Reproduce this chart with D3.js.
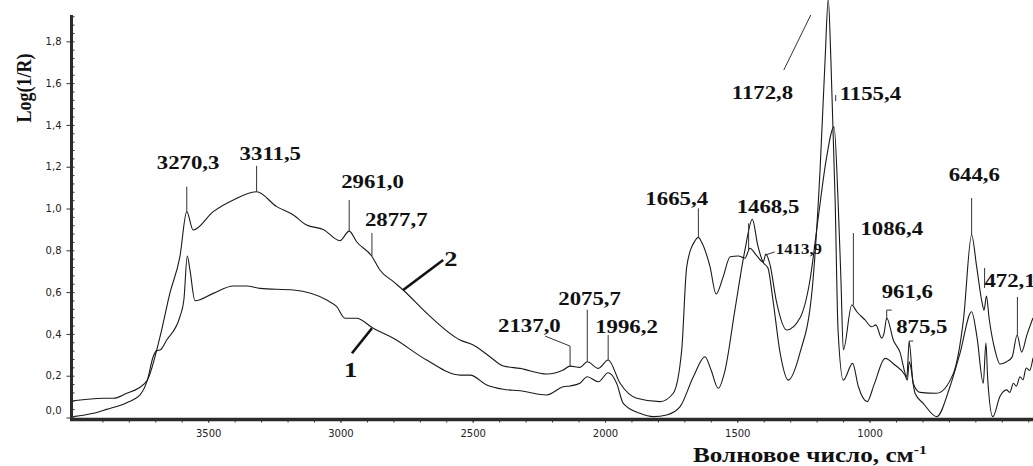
<!DOCTYPE html>
<html>
 <head>
    <meta charset="utf-8">
    <style>
        body { margin: 0; background: #fff; }
        svg { display: block; }
        .lbl { font-family: 'Liberation Serif', 'Times New Roman', serif; font-weight: bold; fill: #111; }
        .tick text { font-family: 'DejaVu Sans', sans-serif; font-size: 10px; fill: #222; }
    </style>
    <script src="https://d3js.org/d3.v7.min.js"></script>
 </head>
 <body>
    <div id="chart"></div>
    <script>
        // spectrum 2 (upper in the 3000 region)
        var wn2 = [4010, 3897, 3859, 3808, 3764, 3730, 3682, 3645, 3607, 3581, 3557, 3481, 3405, 3317, 3241, 3178,
            3128, 3065, 3002, 2967, 2939, 2882, 2851, 2800, 2763, 2674, 2548, 2498, 2435, 2384, 2321, 2220, 2158,
            2132, 2095, 2067, 2025, 1988, 1943, 1880, 1792, 1742, 1710, 1691, 1660, 1647, 1635, 1603, 1580, 1553,
            1527, 1496, 1471, 1452, 1429, 1402, 1392, 1376, 1353, 1313, 1263, 1225, 1195, 1164, 1134, 1119, 1108,
            1099, 1067, 1048, 1017, 992, 976, 954, 945, 935, 910, 885, 859, 850, 835, 809, 746, 683, 645, 614, 595,
            575, 567, 558, 548, 526, 507, 482, 461, 442, 425, 405, 382];
        var val2 = [0.080, 0.092, 0.092, 0.116, 0.140, 0.179, 0.387, 0.594, 0.769, 0.985, 0.897, 0.985, 1.041, 1.080,
            1.009, 0.969, 0.921, 0.900, 0.846, 0.892, 0.841, 0.773, 0.706, 0.650, 0.610, 0.499, 0.371, 0.347, 0.291,
            0.246, 0.235, 0.208, 0.227, 0.246, 0.240, 0.267, 0.235, 0.275, 0.164, 0.092, 0.076, 0.116, 0.323, 0.722,
            0.845, 0.862, 0.840, 0.722, 0.591, 0.674, 0.769, 0.773, 0.762, 0.810, 0.778, 0.744, 0.782, 0.730, 0.562,
            0.419, 0.476, 0.658, 0.945, 1.232, 1.391, 1.041, 0.658, 0.323, 0.538, 0.506, 0.467, 0.434, 0.443, 0.380,
            0.404, 0.476, 0.371, 0.313, 0.195, 0.361, 0.164, 0.120, 0.116, 0.211, 0.467, 0.873, 0.722, 0.553, 0.514,
            0.581, 0.476, 0.323, 0.256, 0.267, 0.289, 0.395, 0.313, 0.395, 0.476];

        // spectrum 1 (lower in the 3000 region)
        var wn1 = [4010, 3935, 3884, 3808, 3758, 3730, 3708, 3695, 3682, 3657, 3607, 3592, 3579, 3569, 3550, 3481,
            3405, 3355, 3304, 3178, 3052, 3014, 2983, 2939, 2876, 2800, 2674, 2548, 2510, 2447, 2384, 2321, 2220,
            2158, 2132, 2095, 2067, 2025, 1988, 1956, 1931, 1868, 1817, 1767, 1716, 1666, 1622, 1599, 1572, 1546,
            1509, 1471, 1443, 1422, 1403, 1384, 1365, 1338, 1307, 1263, 1217, 1187, 1168, 1156, 1146, 1130, 1119,
            1099, 1064, 1042, 1009, 983, 941, 904, 866, 857, 850, 828, 797, 746, 696, 658, 614, 594, 570, 560, 553,
            534, 507, 482, 470, 456, 445, 431, 420, 408, 395, 382];
        var val1 = [0.004, 0.020, 0.039, 0.071, 0.108, 0.179, 0.291, 0.320, 0.323, 0.371, 0.482, 0.562, 0.773, 0.706,
            0.559, 0.594, 0.629, 0.629, 0.618, 0.610, 0.562, 0.530, 0.475, 0.475, 0.427, 0.379, 0.275, 0.203, 0.203,
            0.156, 0.135, 0.128, 0.108, 0.147, 0.151, 0.164, 0.195, 0.171, 0.214, 0.164, 0.068, 0.020, 0.004, 0.012,
            0.052, 0.195, 0.291, 0.227, 0.140, 0.227, 0.514, 0.801, 0.948, 0.821, 0.744, 0.715, 0.562, 0.309, 0.179,
            0.309, 0.610, 1.184, 1.711, 2.002, 1.711, 1.041, 0.419, 0.179, 0.259, 0.147, 0.076, 0.156, 0.283, 0.251,
            0.203, 0.179, 0.266, 0.116, 0.068, 0.004, 0.147, 0.307, 0.506, 0.387, 0.164, 0.356, 0.179, 0.004, 0.100,
            0.132, 0.120, 0.164, 0.150, 0.195, 0.180, 0.237, 0.225, 0.285];

        var xMajor = [3500, 3000, 2500, 2000, 1500, 1000];
        var xMinor = d3.range(3900, 399, -100);
        var yMajor = [0, 0.2, 0.4, 0.6, 0.8, 1.0, 1.2, 1.4, 1.6, 1.8];
        var yMinor = d3.range(0, 1.93, 0.04);

        // peak labels: anchor point in data units, leader offsets and label offsets in px
        var peaks = [
            { t: "3270,3", w: 3581, v: 0.985, pts: [[0, 0], [0, -25]], dx: -30, dy: -43 },
            { t: "3311,5", w: 3317, v: 1.080, pts: [[0, 0], [0, -26]], dx: -17, dy: -32 },
            { t: "2961,0", w: 2967, v: 0.892, pts: [[0, 0], [0, -31]], dx: -8, dy: -43 },
            { t: "2877,7", w: 2881, v: 0.773, pts: [[0, 0], [0, -23]], dx: -7, dy: -30 },
            { t: "2137,0", w: 2132, v: 0.246, pts: [[0, 0], [0, -20], [-25, -30]], dx: -72, dy: -34 },
            { t: "2075,7", w: 2067, v: 0.267, pts: [[0, 0], [0, -52]], dx: -29, dy: -57 },
            { t: "1996,2", w: 1988, v: 0.275, pts: [[0, 0], [0, -25]], dx: -13, dy: -27 },
            { t: "1665,4", w: 1647, v: 0.862, pts: [[0, 0], [0, -29]], dx: -53, dy: -32 },
            { t: "1468,5", w: 1457, v: 0.800, pts: [[0, 0], [0, -27]], dx: -12, dy: -37 },
            { t: "1413,9", w: 1392, v: 0.778, pts: [[0, 0], [9, -3]], dx: 10, dy: -1, small: true },
            { t: "1172,8", w: 1222, v: 1.926, pts: [[0, 0], [-27, 55]], dx: -79, dy: 84 },
            { t: "1155,4", w: 1128, v: 1.514, pts: [[0, 0], [0, -6]], dx: 4, dy: -1 },
            { t: "1086,4", w: 1061, v: 0.538, pts: [[0, 0], [0, -72]], dx: 7, dy: -70 },
            { t: "961,6", w: 935, v: 0.514, pts: [[5, 0], [0, 0], [0, 10]], dx: -5, dy: -12 },
            { t: "875,5", w: 850, v: 0.366, pts: [[4, 0], [0, 0], [0, 6]], dx: -13, dy: -8 },
            { t: "644,6", w: 614, v: 0.873, pts: [[0, 0], [0, -37]], dx: -23, dy: -54 },
            { t: "472,1", w: 441, v: 0.395, pts: [[0, 0], [0, -38]], dx: -33, dy: -48 },
            { t: "", w: 565, v: 0.620, pts: [[0, 0], [0, -20]], dx: 0, dy: 0 }
        ];
        // curve number pointers
        var curveTags = [
            { t: "2", w: 2763, v: 0.610, end: [40, -30], dx: 41, dy: -24 },
            { t: "1", w: 2881, v: 0.427, end: [-20, 25], dx: -28, dy: 49 }
        ];

        var width = 1033, height = 466;
        var svg = d3.select("#chart").append("svg").attr("width", width).attr("height", height);

        var x = d3.scaleLinear().domain([4016, 382]).range([71.7, 1033]);
        var y = d3.scaleLinear().domain([0, 1.926]).range([417.5, 15]);

        var comma = function (d) { return d.toFixed(1).replace(".", ","); };

        // x axis: minor and major ticks in separate groups
        svg.append("g").attr("transform", "translate(0,419.5)")
            .call(d3.axisBottom(x).tickValues(xMinor).tickSize(3).tickFormat(""));
        svg.append("g").attr("transform", "translate(0,419.5)")
            .call(d3.axisBottom(x).tickValues(xMajor).tickSize(3).tickPadding(7).tickFormat(d3.format("d")));

        // y axis
        svg.append("g").attr("transform", "translate(71.5,0)")
            .call(d3.axisRight(y).tickValues(yMinor).tickSize(3).tickFormat(""));
        var gy = svg.append("g").attr("transform", "translate(71.5,0)")
            .call(d3.axisLeft(y).tickValues(yMajor).tickSize(5).tickPadding(5).tickFormat(comma));
        gy.selectAll(".tick text").filter(function (d) { return d === 0; }).attr("dy", "-0.4em");

        svg.selectAll(".domain").remove();
        svg.selectAll(".tick line").attr("stroke", "#333");

        svg.append("line").attr("x1", 70).attr("x2", width).attr("y1", 419.5).attr("y2", 419.5)
            .attr("stroke", "#2b2b2b").attr("stroke-width", 3.5);
        svg.append("line").attr("x1", 71.5).attr("x2", 71.5).attr("y1", 15).attr("y2", 421)
            .attr("stroke", "#2b2b2b").attr("stroke-width", 3);

        // spectra
        var line = d3.line().x(function (d) { return x(d[0]); }).y(function (d) { return y(d[1]); })
            .curve(d3.curveMonotoneX);
        [d3.zip(wn1, val1), d3.zip(wn2, val2)].forEach(function (s) {
            svg.append("path").attr("d", line(s)).attr("fill", "none")
                .attr("stroke", "#1a1a1a").attr("stroke-width", 1.1);
        });

        // peak annotations
        peaks.forEach(function (p) {
            var px = x(p.w), py = y(p.v);
            svg.append("polyline")
                .attr("points", p.pts.map(function (q) { return (px + q[0]) + "," + (py + q[1]); }).join(" "))
                .attr("fill", "none").attr("stroke", "#333").attr("stroke-width", 1);
            if (p.t) {
                svg.append("text").attr("class", "lbl")
                    .attr("transform", "translate(" + (px + p.dx) + "," + (py + p.dy) + ") scale(1.2,1)")
                    .attr("font-size", p.small ? 14 : 19).text(p.t);
            }
        });

        curveTags.forEach(function (c) {
            var px = x(c.w), py = y(c.v);
            svg.append("line").attr("x1", px).attr("y1", py).attr("x2", px + c.end[0]).attr("y2", py + c.end[1])
                .attr("stroke", "#111").attr("stroke-width", 2.6);
            svg.append("text").attr("class", "lbl")
                .attr("transform", "translate(" + (px + c.dx) + "," + (py + c.dy) + ") scale(1.2,1)")
                .attr("font-size", 22).text(c.t);
        });

        // axis titles
        var xt = svg.append("text").attr("class", "lbl")
            .attr("transform", "translate(693,462) scale(1.2,1)").attr("font-size", 21);
        xt.append("tspan").text("Волновое число, см");
        xt.append("tspan").attr("dy", -8).attr("font-size", 13).text("-1");

        svg.append("text").attr("class", "lbl")
            .attr("transform", "translate(31,88) scale(1.2,1) rotate(-90)")
            .attr("text-anchor", "middle").attr("font-size", 18).text("Log(1/R)");
    </script>
 </body>
</html>
